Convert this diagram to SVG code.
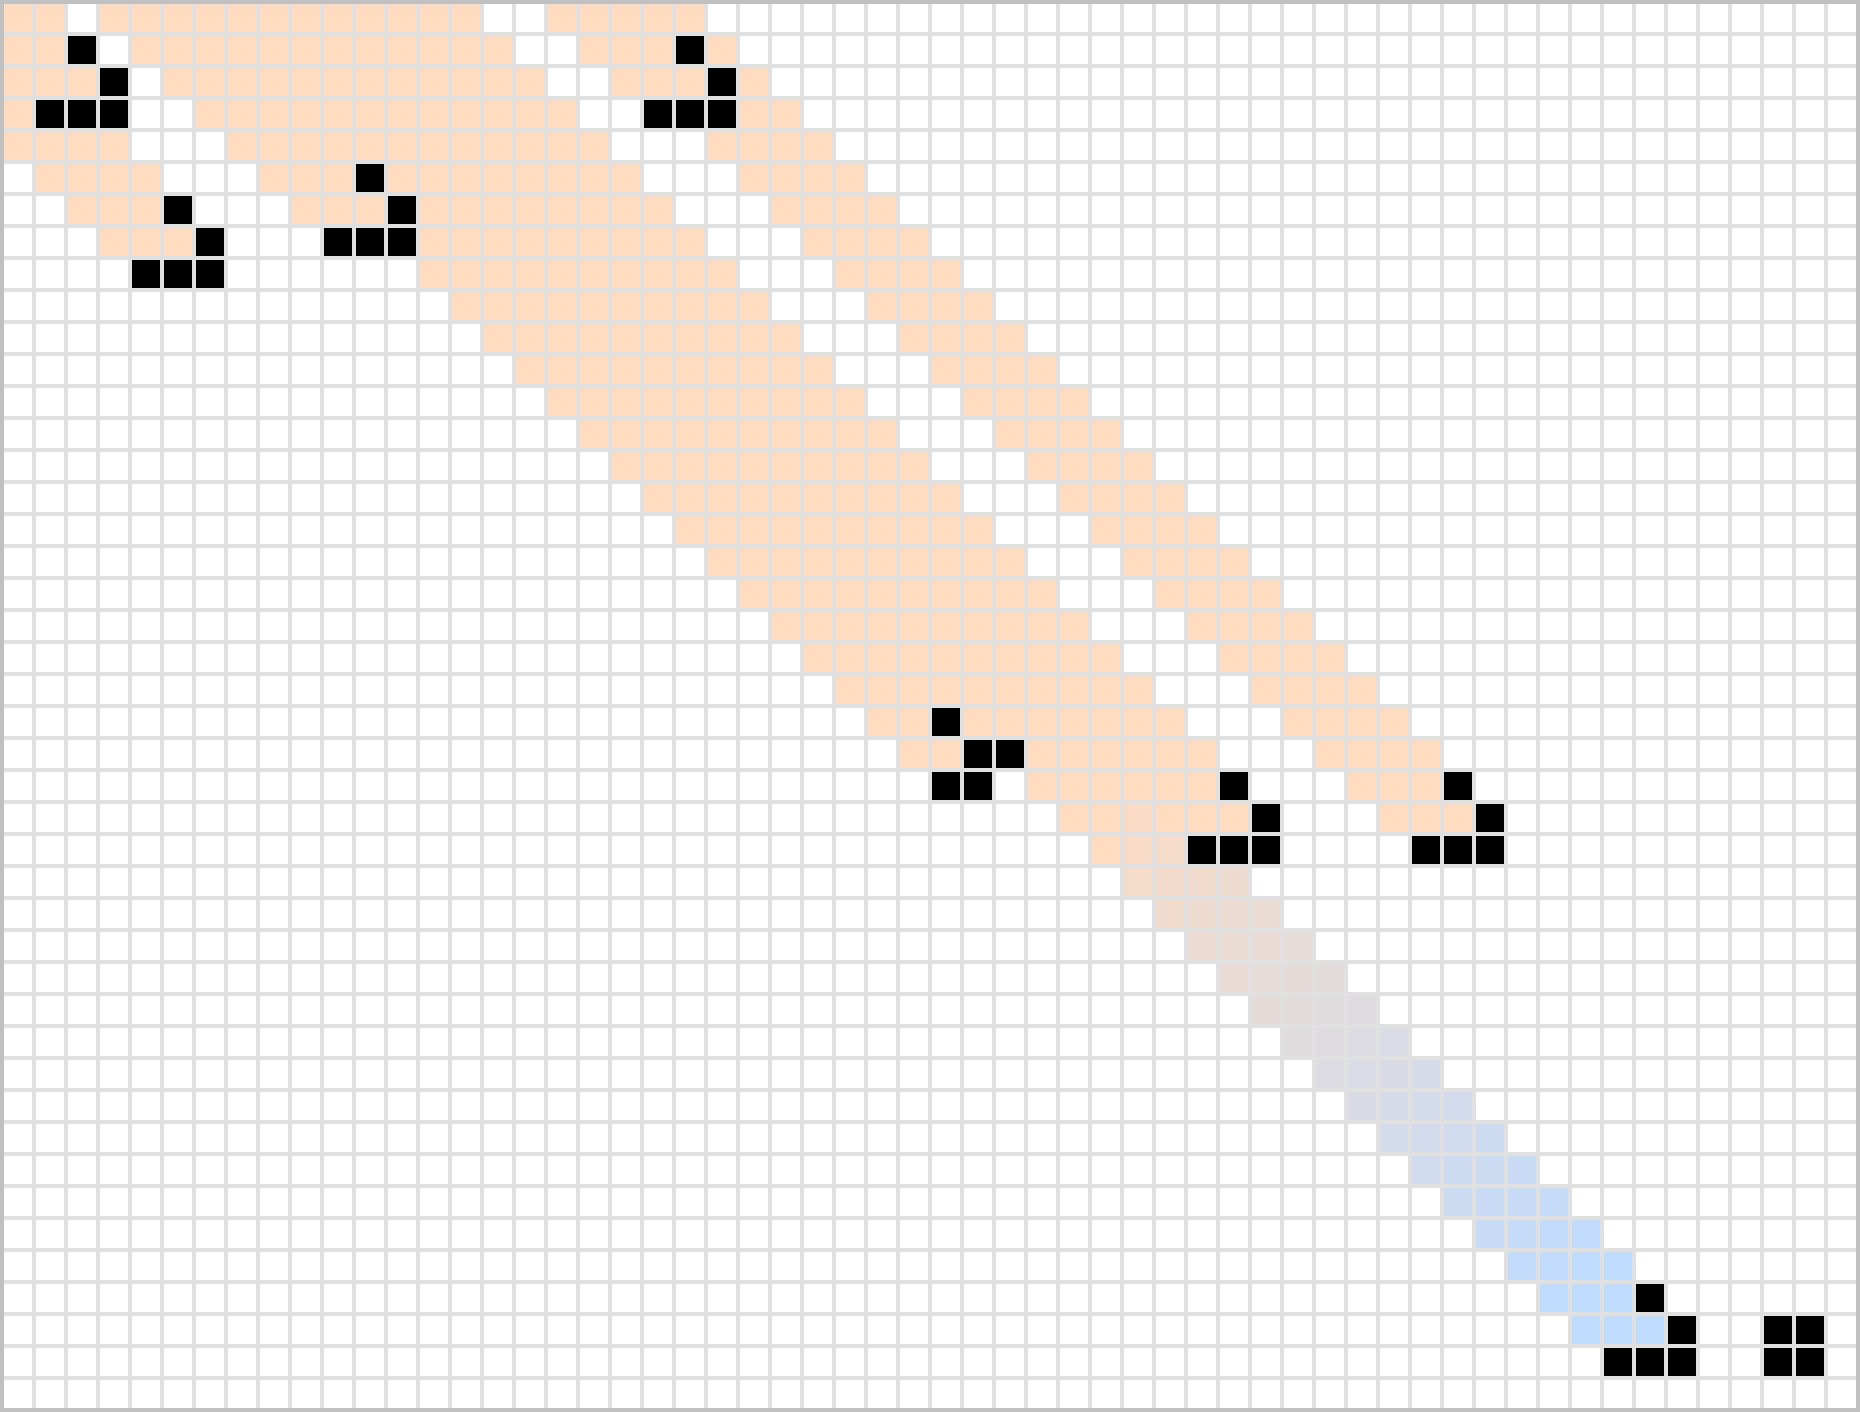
<svg xmlns="http://www.w3.org/2000/svg" width="1860" height="1412" viewBox="0 0 1860 1412">
  <style>
    .p { fill: #ffdbbf; }
    .b { fill: #000000; }
  </style>
  <defs>
    <pattern id="grid" x="0" y="0" width="32" height="32" patternUnits="userSpaceOnUse">
      <path d="M0 0H32V4H4V32H0Z" fill="#e0e0e0"/>
    </pattern>
  </defs>
  <rect id="background" x="0" y="0" width="1860" height="1412" fill="#ffffff"/>

  <g id="trail" class="p" height="32">
    <rect x="0" y="0" width="64" height="32"/><rect x="96" y="0" width="384" height="32"/><rect x="544" y="0" width="160" height="32"/>
    <rect x="0" y="32" width="64" height="32"/><rect x="128" y="32" width="384" height="32"/><rect x="576" y="32" width="96" height="32"/><rect x="704" y="32" width="32" height="32"/>
    <rect x="0" y="64" width="96" height="32"/><rect x="160" y="64" width="384" height="32"/><rect x="608" y="64" width="96" height="32"/><rect x="736" y="64" width="32" height="32"/>
    <rect x="0" y="96" width="32" height="32"/><rect x="192" y="96" width="384" height="32"/><rect x="736" y="96" width="64" height="32"/>
    <rect x="0" y="128" width="128" height="32"/><rect x="224" y="128" width="384" height="32"/><rect x="704" y="128" width="128" height="32"/>
    <rect x="32" y="160" width="128" height="32"/><rect x="256" y="160" width="96" height="32"/><rect x="384" y="160" width="256" height="32"/><rect x="736" y="160" width="128" height="32"/>
    <rect x="64" y="192" width="96" height="32"/><rect x="288" y="192" width="96" height="32"/><rect x="416" y="192" width="256" height="32"/><rect x="768" y="192" width="128" height="32"/>
    <rect x="96" y="224" width="96" height="32"/><rect x="416" y="224" width="288" height="32"/><rect x="800" y="224" width="128" height="32"/>
    <rect x="416" y="256" width="320" height="32"/><rect x="832" y="256" width="128" height="32"/>
    <rect x="448" y="288" width="320" height="32"/><rect x="864" y="288" width="128" height="32"/>
    <rect x="480" y="320" width="320" height="32"/><rect x="896" y="320" width="128" height="32"/>
    <rect x="512" y="352" width="320" height="32"/><rect x="928" y="352" width="128" height="32"/>
    <rect x="544" y="384" width="320" height="32"/><rect x="960" y="384" width="128" height="32"/>
    <rect x="576" y="416" width="320" height="32"/><rect x="992" y="416" width="128" height="32"/>
    <rect x="608" y="448" width="320" height="32"/><rect x="1024" y="448" width="128" height="32"/>
    <rect x="640" y="480" width="320" height="32"/><rect x="1056" y="480" width="128" height="32"/>
    <rect x="672" y="512" width="320" height="32"/><rect x="1088" y="512" width="128" height="32"/>
    <rect x="704" y="544" width="320" height="32"/><rect x="1120" y="544" width="128" height="32"/>
    <rect x="736" y="576" width="320" height="32"/><rect x="1152" y="576" width="128" height="32"/>
    <rect x="768" y="608" width="320" height="32"/><rect x="1184" y="608" width="128" height="32"/>
    <rect x="800" y="640" width="320" height="32"/><rect x="1216" y="640" width="128" height="32"/>
    <rect x="832" y="672" width="320" height="32"/><rect x="1248" y="672" width="128" height="32"/>
    <rect x="864" y="704" width="64" height="32"/><rect x="960" y="704" width="224" height="32"/><rect x="1280" y="704" width="128" height="32"/>
    <rect x="896" y="736" width="64" height="32"/><rect x="1024" y="736" width="192" height="32"/><rect x="1312" y="736" width="128" height="32"/>
    <rect x="1024" y="768" width="192" height="32"/><rect x="1344" y="768" width="96" height="32"/>
    <rect x="1056" y="800" width="64" height="32"/><rect x="1152" y="800" width="96" height="32"/><rect x="1376" y="800" width="96" height="32"/>
    <rect x="1088" y="832" width="32" height="32"/>
  </g>

  <g id="gradient-trail">
    <rect x="1120" y="800" width="32" height="32" fill="#f9dbc5"/>
    <rect x="1120" y="832" width="32" height="32" fill="#f7dbc7"/><rect x="1152" y="832" width="32" height="32" fill="#f5dbc9"/>
    <rect x="1120" y="864" width="32" height="32" fill="#f5dbc9"/><rect x="1152" y="864" width="32" height="32" fill="#f3dbcb"/><rect x="1184" y="864" width="32" height="32" fill="#f1dbcd"/><rect x="1216" y="864" width="32" height="32" fill="#eedbcf"/>
    <rect x="1152" y="896" width="32" height="32" fill="#f1dbcd"/><rect x="1184" y="896" width="32" height="32" fill="#eedbcf"/><rect x="1216" y="896" width="32" height="32" fill="#ecdbd1"/><rect x="1248" y="896" width="32" height="32" fill="#eadbd3"/>
    <rect x="1184" y="928" width="32" height="32" fill="#ecdbd1"/><rect x="1216" y="928" width="32" height="32" fill="#eadbd3"/><rect x="1248" y="928" width="32" height="32" fill="#e8dbd5"/><rect x="1280" y="928" width="32" height="32" fill="#e6dbd7"/>
    <rect x="1216" y="960" width="32" height="32" fill="#e8dbd5"/><rect x="1248" y="960" width="32" height="32" fill="#e6dbd7"/><rect x="1280" y="960" width="32" height="32" fill="#e4dbd9"/><rect x="1312" y="960" width="32" height="32" fill="#e2dbdb"/>
    <rect x="1248" y="992" width="32" height="32" fill="#e4dbd9"/><rect x="1280" y="992" width="32" height="32" fill="#e2dbdb"/><rect x="1312" y="992" width="32" height="32" fill="#e0dbdd"/><rect x="1344" y="992" width="32" height="32" fill="#dedbdf"/>
    <rect x="1280" y="1024" width="32" height="32" fill="#e0dbdd"/><rect x="1312" y="1024" width="32" height="32" fill="#dedbdf"/><rect x="1344" y="1024" width="32" height="32" fill="#dcdbe1"/><rect x="1376" y="1024" width="32" height="32" fill="#dadbe4"/>
    <rect x="1312" y="1056" width="32" height="32" fill="#dcdbe1"/><rect x="1344" y="1056" width="32" height="32" fill="#dadbe4"/><rect x="1376" y="1056" width="32" height="32" fill="#d8dbe6"/><rect x="1408" y="1056" width="32" height="32" fill="#d6dbe8"/>
    <rect x="1344" y="1088" width="32" height="32" fill="#d8dbe6"/><rect x="1376" y="1088" width="32" height="32" fill="#d6dbe8"/><rect x="1408" y="1088" width="32" height="32" fill="#d4dbea"/><rect x="1440" y="1088" width="32" height="32" fill="#d2dbec"/>
    <rect x="1376" y="1120" width="32" height="32" fill="#d4dbea"/><rect x="1408" y="1120" width="32" height="32" fill="#d2dbec"/><rect x="1440" y="1120" width="32" height="32" fill="#d0dbee"/><rect x="1472" y="1120" width="32" height="32" fill="#cddbf0"/>
    <rect x="1408" y="1152" width="32" height="32" fill="#d0dbee"/><rect x="1440" y="1152" width="32" height="32" fill="#cddbf0"/><rect x="1472" y="1152" width="32" height="32" fill="#cbdbf2"/><rect x="1504" y="1152" width="32" height="32" fill="#c9dbf4"/>
    <rect x="1440" y="1184" width="32" height="32" fill="#cbdbf2"/><rect x="1472" y="1184" width="32" height="32" fill="#c9dbf4"/><rect x="1504" y="1184" width="32" height="32" fill="#c7dbf6"/><rect x="1536" y="1184" width="32" height="32" fill="#c5dbf8"/>
    <rect x="1472" y="1216" width="32" height="32" fill="#c7dbf6"/><rect x="1504" y="1216" width="32" height="32" fill="#c5dbf8"/><rect x="1536" y="1216" width="32" height="32" fill="#c3dbfa"/><rect x="1568" y="1216" width="32" height="32" fill="#c1dbfc"/>
    <rect x="1504" y="1248" width="32" height="32" fill="#c3dbfa"/><rect x="1536" y="1248" width="32" height="32" fill="#c1dbfc"/><rect x="1568" y="1248" width="64" height="32" fill="#bfdbfe"/>
    <rect x="1536" y="1280" width="96" height="32" fill="#bfdbfe"/>
    <rect x="1568" y="1312" width="96" height="32" fill="#bfdbfe"/>
  </g>

  <g id="live-cells" class="b">
    <rect x="64" y="32" width="32" height="32"/>
    <rect x="672" y="32" width="32" height="32"/>
    <rect x="96" y="64" width="32" height="32"/>
    <rect x="704" y="64" width="32" height="32"/>
    <rect x="32" y="96" width="96" height="32"/>
    <rect x="640" y="96" width="96" height="32"/>
    <rect x="352" y="160" width="32" height="32"/>
    <rect x="160" y="192" width="32" height="32"/>
    <rect x="384" y="192" width="32" height="32"/>
    <rect x="192" y="224" width="32" height="32"/>
    <rect x="320" y="224" width="96" height="32"/>
    <rect x="128" y="256" width="96" height="32"/>
    <rect x="928" y="704" width="32" height="32"/>
    <rect x="960" y="736" width="64" height="32"/>
    <rect x="928" y="768" width="64" height="32"/>
    <rect x="1216" y="768" width="32" height="32"/>
    <rect x="1440" y="768" width="32" height="32"/>
    <rect x="1248" y="800" width="32" height="32"/>
    <rect x="1472" y="800" width="32" height="32"/>
    <rect x="1184" y="832" width="96" height="32"/>
    <rect x="1408" y="832" width="96" height="32"/>
    <rect x="1632" y="1280" width="32" height="32"/>
    <rect x="1664" y="1312" width="32" height="32"/>
    <rect x="1760" y="1312" width="64" height="32"/>
    <rect x="1600" y="1344" width="96" height="32"/>
    <rect x="1760" y="1344" width="64" height="32"/>
  </g>

  <rect id="grid-lines" x="0" y="0" width="1860" height="1412" fill="url(#grid)"/>
  <rect id="border" x="2" y="2" width="1856" height="1408" fill="none" stroke="#c0c0c0" stroke-width="4"/>
</svg>
